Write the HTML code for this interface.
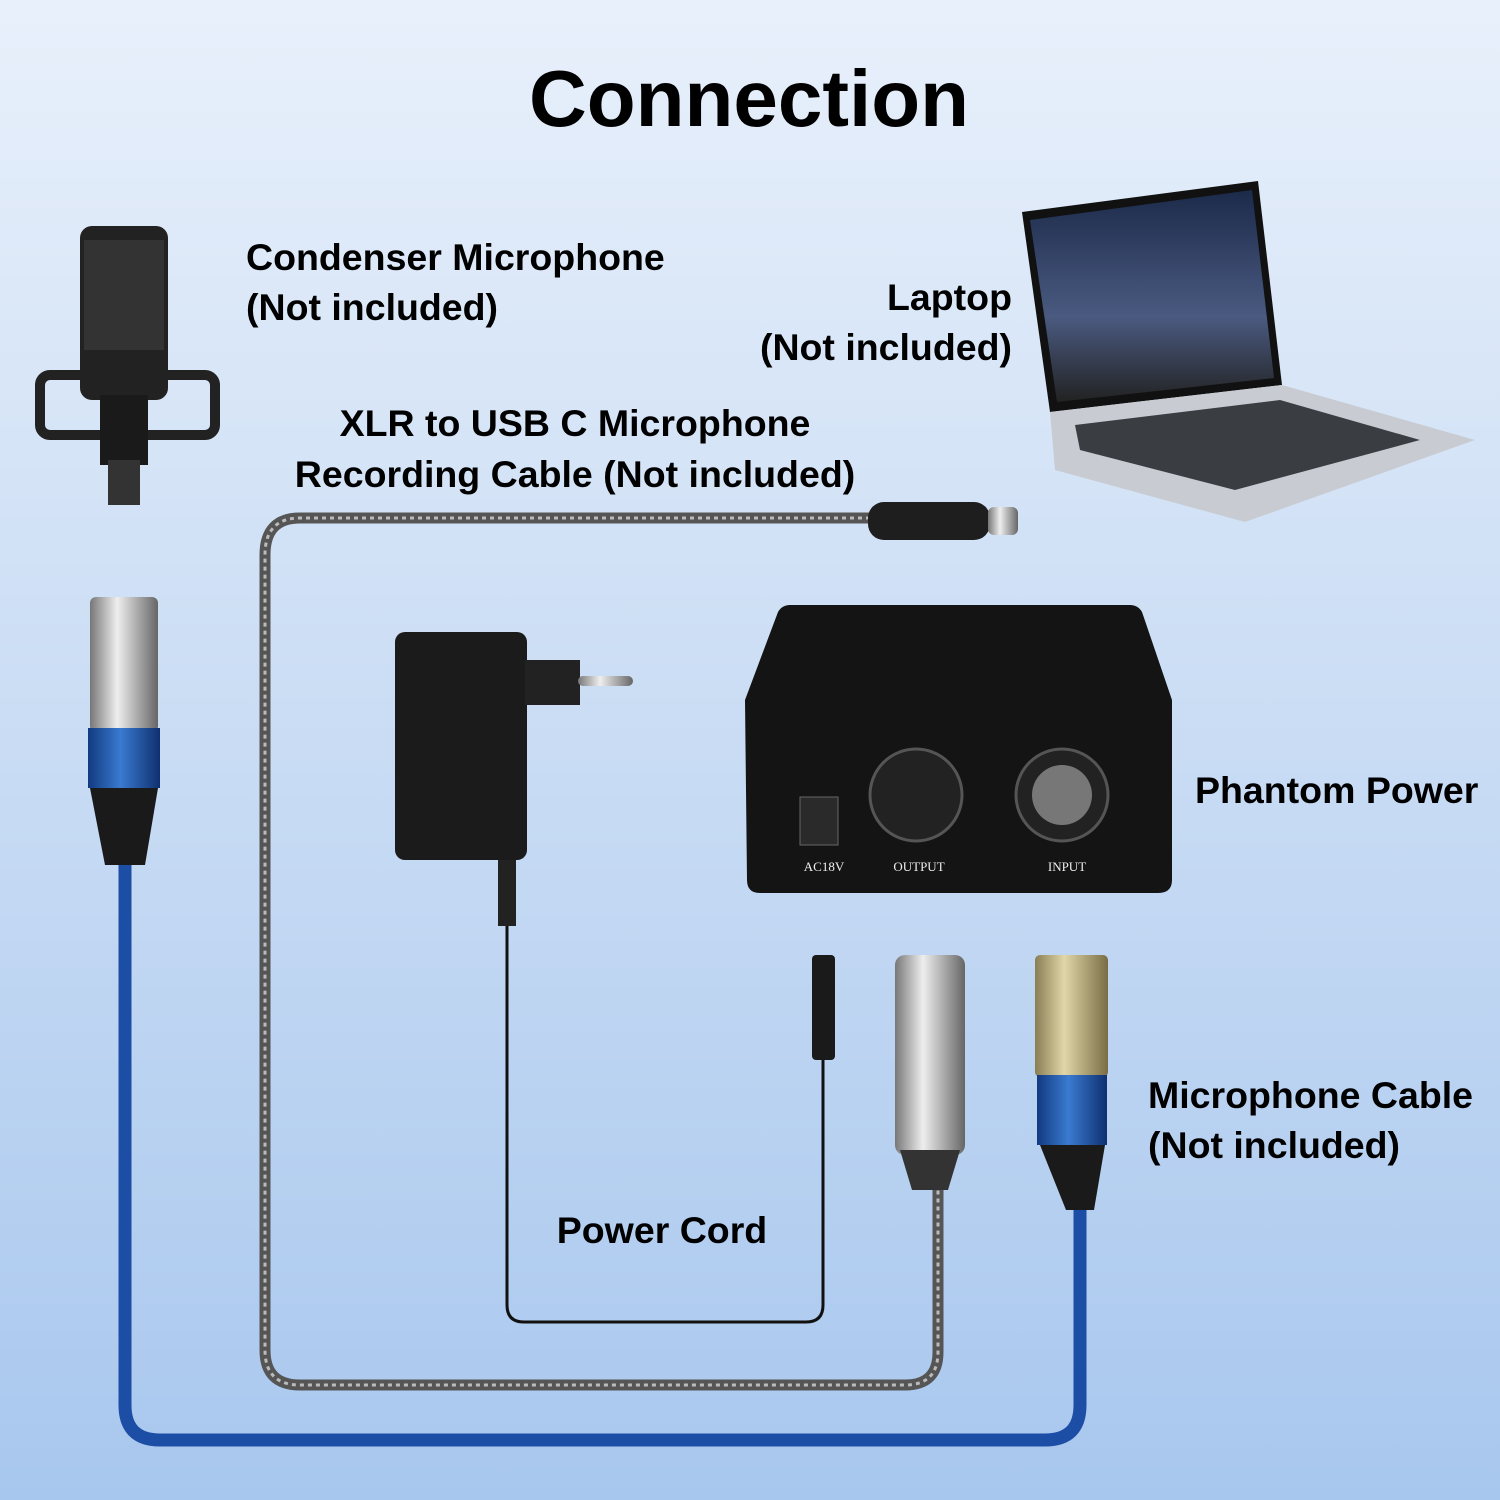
<!DOCTYPE html>
<html><head><meta charset="utf-8"><style>
html,body{margin:0;padding:0}
body{width:1500px;height:1500px;overflow:hidden;background:linear-gradient(180deg,#e8f0fb 0%,#c9dcf4 50%,#a8c7ee 100%);font-family:"Liberation Sans",sans-serif}
svg{position:absolute;left:0;top:0}
.t{font-family:"Liberation Sans",sans-serif;font-weight:bold;fill:#000}
</style></head><body>
<svg width="1500" height="1500" viewBox="0 0 1500 1500">
<defs>
<linearGradient id="silver" x1="0" x2="1"><stop offset="0" stop-color="#777"/><stop offset=".4" stop-color="#eee"/><stop offset="1" stop-color="#666"/></linearGradient>
<linearGradient id="gold" x1="0" x2="1"><stop offset="0" stop-color="#8a7d55"/><stop offset=".4" stop-color="#e0d6a8"/><stop offset="1" stop-color="#7a6d45"/></linearGradient>
<linearGradient id="blue" x1="0" x2="1"><stop offset="0" stop-color="#123a80"/><stop offset=".45" stop-color="#3a7ad0"/><stop offset="1" stop-color="#0f3070"/></linearGradient>
<linearGradient id="scr" x1="0" y1="0" x2="0" y2="1"><stop offset="0" stop-color="#1c2a4a"/><stop offset=".6" stop-color="#4a5a80"/><stop offset="1" stop-color="#222"/></linearGradient>
</defs>
<text class="t" x="749" y="126" font-size="80" text-anchor="middle">Connection</text>

<path d="M125 860 V1405 Q125 1440 160 1440 H1045 Q1080 1440 1080 1405 V1205" fill="none" stroke="#1d4ea6" stroke-width="13"/>
<path d="M870 518 H300 Q265 518 265 555 V1350 Q265 1385 300 1385 H905 Q938 1385 938 1352 V1190" fill="none" stroke="#555" stroke-width="11"/>
<path d="M870 518 H300 Q265 518 265 555 V1350 Q265 1385 300 1385 H905 Q938 1385 938 1352 V1190" fill="none" stroke="#bbb" stroke-width="3" stroke-dasharray="4 4"/>
<path d="M507 925 V1305 Q507 1322 524 1322 H806 Q823 1322 823 1305 V1060" fill="none" stroke="#111" stroke-width="3"/>

<rect x="80" y="226" width="88" height="174" rx="12" fill="#222"/>
<rect x="84" y="240" width="80" height="110" fill="#333"/>
<rect x="40" y="375" width="175" height="60" rx="10" fill="none" stroke="#222" stroke-width="10"/>
<rect x="100" y="395" width="48" height="70" fill="#1a1a1a"/>
<rect x="108" y="460" width="32" height="45" fill="#333"/>

<polygon points="1022,212 1258,181 1282,385 1050,412" fill="#111"/>
<polygon points="1030,220 1252,190 1274,378 1057,402" fill="url(#scr)"/>
<polygon points="1050,412 1282,385 1475,440 1245,522 1055,470" fill="#c8ccd2"/>
<polygon points="1075,425 1280,400 1420,440 1235,490 1080,450" fill="#3a3d42"/>

<rect x="868" y="502" width="122" height="38" rx="16" fill="#1e1e1e"/>
<rect x="988" y="507" width="30" height="28" rx="6" fill="url(#silver)"/>

<rect x="90" y="597" width="68" height="135" rx="6" fill="url(#silver)"/>
<rect x="88" y="728" width="72" height="60" fill="url(#blue)"/>
<polygon points="90,788 158,788 145,865 105,865" fill="#1a1a1a"/>

<rect x="395" y="632" width="132" height="228" rx="10" fill="#1b1b1b"/>
<rect x="525" y="660" width="55" height="45" fill="#222"/>
<rect x="578" y="676" width="55" height="10" rx="5" fill="url(#silver)"/>
<rect x="498" y="860" width="18" height="66" fill="#222"/>

<rect x="812" y="955" width="23" height="105" rx="4" fill="#1a1a1a"/>

<path d="M745 700 L778 612 Q782 605 790 605 H1130 Q1138 605 1142 612 L1172 700 V880 Q1172 893 1158 893 H760 Q747 893 747 880 Z" fill="#141414"/>
<rect x="800" y="797" width="38" height="48" fill="#2a2a2a" stroke="#666"/>
<circle cx="916" cy="795" r="46" fill="#222" stroke="#555" stroke-width="3"/>
<circle cx="1062" cy="795" r="46" fill="#222" stroke="#555" stroke-width="3"/>
<circle cx="1062" cy="795" r="30" fill="#777"/>
<text x="824" y="871" font-size="13" fill="#eee" text-anchor="middle" font-family="Liberation Serif">AC18V</text>
<text x="919" y="871" font-size="13" fill="#eee" text-anchor="middle" font-family="Liberation Serif">OUTPUT</text>
<text x="1067" y="871" font-size="13" fill="#eee" text-anchor="middle" font-family="Liberation Serif">INPUT</text>

<rect x="895" y="955" width="70" height="200" rx="10" fill="url(#silver)"/>
<polygon points="900,1150 960,1150 948,1190 912,1190" fill="#333"/>

<rect x="1035" y="955" width="73" height="122" rx="5" fill="url(#gold)"/>
<rect x="1037" y="1075" width="70" height="70" fill="url(#blue)"/>
<polygon points="1040,1145 1105,1145 1094,1210 1066,1210" fill="#1a1a1a"/>

<g class="t" font-size="37.5">
<text x="246" y="270">Condenser Microphone</text>
<text x="246" y="320">(Not included)</text>
<text x="1012" y="310" text-anchor="end">Laptop</text>
<text x="1012" y="360" text-anchor="end">(Not included)</text>
<text x="575" y="436" text-anchor="middle">XLR to USB C Microphone</text>
<text x="575" y="487" text-anchor="middle">Recording Cable (Not included)</text>
<text x="1195" y="803">Phantom Power</text>
<text x="1148" y="1108">Microphone Cable</text>
<text x="1148" y="1158">(Not included)</text>
<text x="662" y="1243" text-anchor="middle">Power Cord</text>
</g>
</svg>
</body></html>
